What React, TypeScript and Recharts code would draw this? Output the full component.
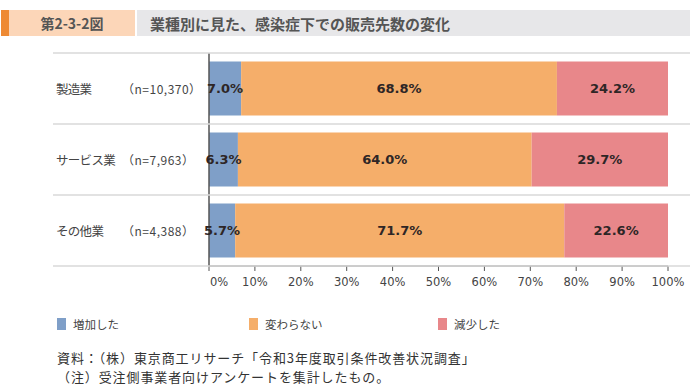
import React from 'react';
import { BarChart, Bar, XAxis, YAxis, LabelList } from 'recharts';

const categories = ['製造業', 'サービス業', 'その他業'];
const sampleSizes = ['（n=10,370）', '（n=7,963）', '（n=4,388）'];
const increased = [7.0, 6.3, 5.7];
const unchanged = [68.8, 64.0, 71.7];
const decreased = [24.2, 29.7, 22.6];
const xTicks = [0, 10, 20, 30, 40, 50, 60, 70, 80, 90, 100];

const seriesNames = ['増加した', '変わらない', '減少した'];
const seriesKeys = ['increased', 'unchanged', 'decreased'];
const seriesColors = ['#7f9fc8', '#f5ae6a', '#e8878a'];

const figureNo = '第2-3-2図';
const titleText = '業種別に見た、感染症下での販売先数の変化';
const sourceLines = [
  '資料：（株）東京商工リサーチ「令和3年度取引条件改善状況調査」',
  '（注）受注側事業者向けアンケートを集計したもの。',
];

const data = categories.map((c, i) => ({
  name: c,
  n: sampleSizes[i],
  increased: increased[i],
  unchanged: unchanged[i],
  decreased: decreased[i],
}));

const JP = '"Noto Sans CJK JP", "Noto Sans", sans-serif';
const LAT = '"DejaVu Sans", Verdana, sans-serif';

const YTick = (props: any) => {
  const { y, payload, index } = props;
  const half = payload && payload.offset ? payload.offset : 35.5;
  const idx = typeof index === 'number' ? index : categories.indexOf(payload.value);
  return (
    <g>
      <line x1={53} x2={690} y1={y - half} y2={y - half} stroke="#d9d9d9" strokeWidth={1.5} />
      {idx === categories.length - 1 && (
        <line x1={53} x2={690} y1={y + half} y2={y + half} stroke="#d9d9d9" strokeWidth={1.5} />
      )}
      <text x={56} y={y} dominantBaseline="central" fontFamily={JP} fontSize={12.5} letterSpacing={-0.7} fill="#444">
        {payload.value}
      </text>
      <text x={122} y={y} dominantBaseline="central" fontFamily={JP} fontSize={12} letterSpacing={0.5} fill="#444">
        {sampleSizes[idx]}
      </text>
    </g>
  );
};

const XTick = (props: any) => {
  const { x, y, payload } = props;
  const shift = payload.value === 0 ? 10 : 0;
  return (
    <text x={x + shift} y={y + 9} textAnchor="middle" dominantBaseline="central" fontFamily={LAT} fontSize={11.5} fill="#444">
      {payload.value + '%'}
    </text>
  );
};

export default function App() {
  return (
    <div style={{ position: 'absolute', left: 0, top: 0, width: 690, height: 388, background: '#fff', overflow: 'hidden' }}>
      {/* title bar */}
      <div style={{ position: 'absolute', left: 1, top: 10, width: 8, height: 26, background: '#ee8a34' }} />
      <div style={{ position: 'absolute', left: 9, top: 10, width: 126, height: 26, background: '#fcd6b8', display: 'flex', alignItems: 'center', justifyContent: 'center', fontFamily: JP, fontWeight: 700, fontSize: 14, color: '#555' }}>
        {figureNo}
      </div>
      <div style={{ position: 'absolute', left: 137, top: 10, width: 553, height: 26, background: '#e7e7e9', display: 'flex', alignItems: 'center', fontFamily: JP, fontWeight: 700, fontSize: 15, color: '#555' }}>
        <span style={{ marginLeft: 13 }}>{titleText}</span>
      </div>

      <div style={{ position: 'absolute', left: 0, top: 0 }}>
        <BarChart width={690} height={388} data={data} layout="vertical" margin={{ top: 53, right: 22, left: 0, bottom: 92 }} barCategoryGap="12%">
          <XAxis type="number" domain={[0, 100]} ticks={xTicks} height={30} tickSize={5} tick={<XTick />} axisLine={{ stroke: '#555' }} tickLine={{ stroke: '#555' }} interval={0} allowDataOverflow />
          <YAxis type="category" dataKey="name" width={209} tick={<YTick />} tickLine={false} axisLine={{ stroke: '#555', strokeWidth: 1.5 }} interval={0} />
          {seriesKeys.map((k, i) => (
            <Bar key={k} dataKey={k} name={seriesNames[i]} stackId="s" fill={seriesColors[i]} isAnimationActive={false}>
              <LabelList dataKey={k} position="center" formatter={(v: any) => Number(v).toFixed(1) + '%'} fill="#2e2626" fontFamily={LAT} fontSize={13} fontWeight={700} />
            </Bar>
          ))}
        </BarChart>
      </div>

      {/* legend */}
      {seriesNames.map((n, i) => (
        <div key={n} style={{ position: 'absolute', left: [57, 249, 438][i], top: 318, display: 'flex', alignItems: 'center', height: 12 }}>
          <div style={{ width: 9, height: 12, background: seriesColors[i] }} />
          <span style={{ marginLeft: 7, fontFamily: JP, fontSize: 11.5, color: '#444' }}>{n}</span>
        </div>
      ))}

      {/* source */}
      {sourceLines.map((t, i) => (
        <div key={i} style={{ position: 'absolute', left: 57, top: [349, 368][i], height: 17, fontFamily: JP, fontSize: 13, lineHeight: '17px', letterSpacing: 0.9, color: '#333', whiteSpace: 'nowrap' }}>
          {t}
        </div>
      ))}
    </div>
  );
}
